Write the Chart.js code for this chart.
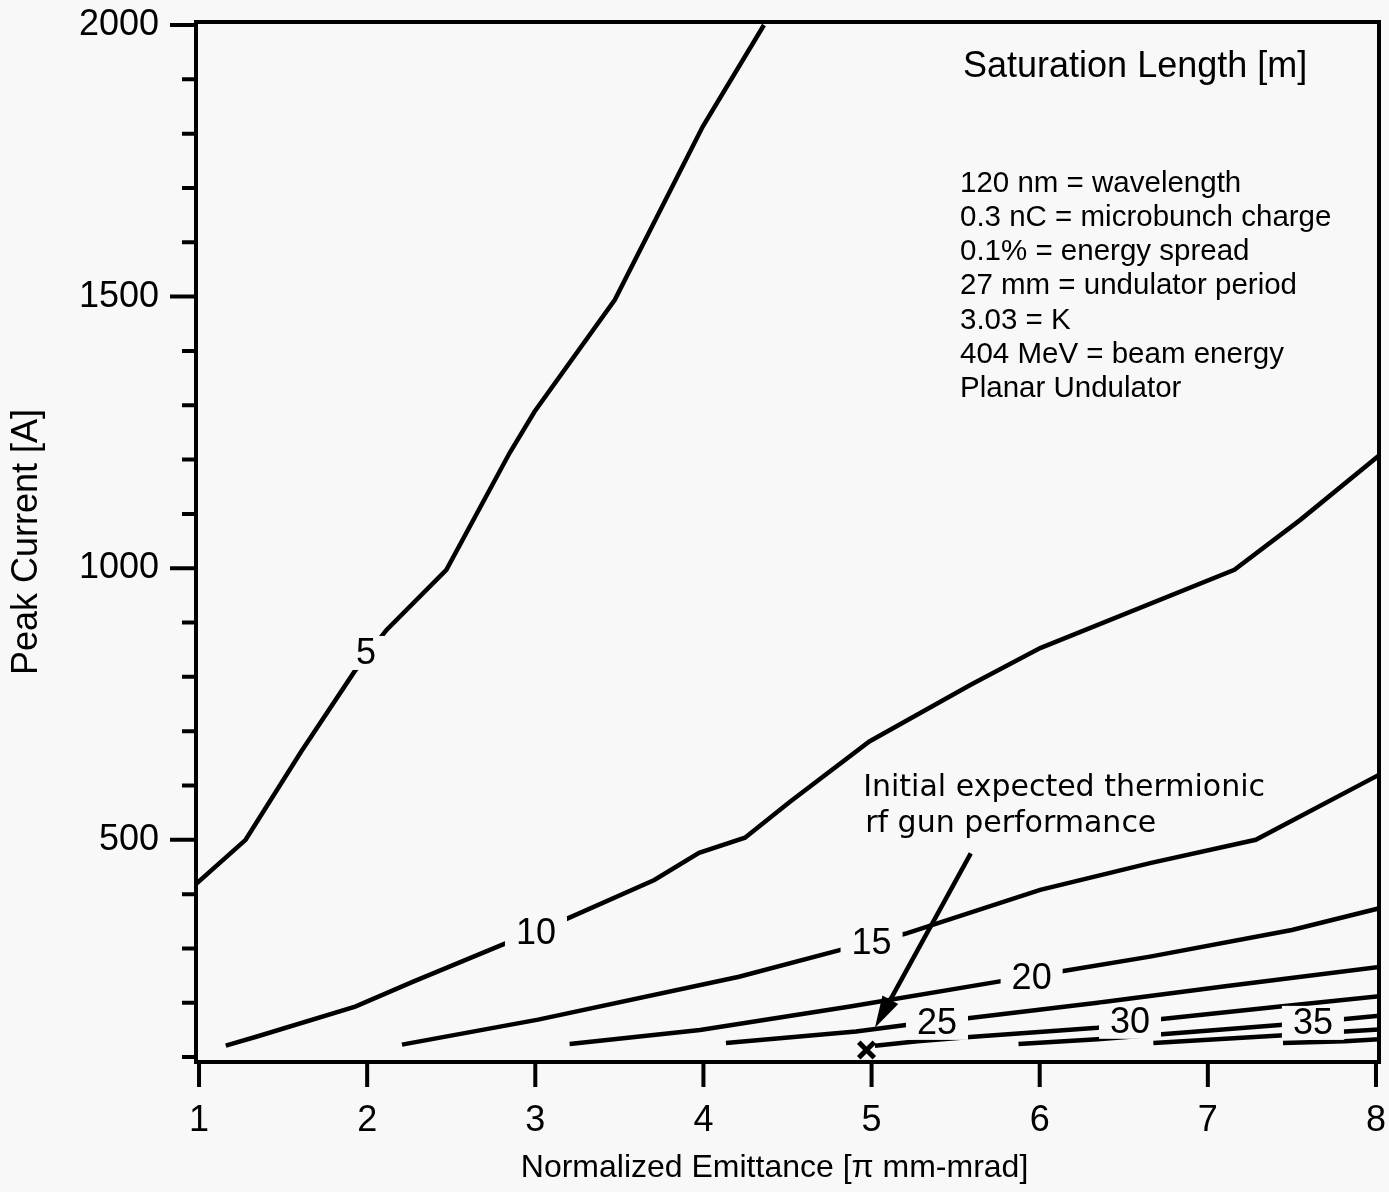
<!DOCTYPE html>
<html>
<head>
<meta charset="utf-8">
<script src="https://cdn.jsdelivr.net/npm/chart.js@4.4.1/dist/chart.umd.min.js"></script>
<style>
  html, body { margin: 0; padding: 0; background: #f8f8f8; }
</style>
</head>
<body>
<canvas id="satChart" width="1389" height="1192"></canvas>
<script>
const xTicks = [1, 2, 3, 4, 5, 6, 7, 8];
const yTickLabels = [500, 1000, 1500, 2000];

// contour lines of saturation length [m], emittance vs peak current
const len5X = [0.98, 1.277, 1.607, 1.925, 2.114, 2.471, 2.847, 2.995, 3.473, 3.996, 4.36];
const len5Y = [418, 500, 662, 810, 886, 997, 1212, 1288, 1494, 1813, 2000];
const len10X = [1.159, 1.345, 1.929, 2.274, 2.805, 3.19, 3.708, 3.974, 4.247, 4.515, 4.987, 5.587, 6.003, 7.158, 7.55, 8.02];
const len10Y = [121, 138, 193, 239, 307, 355, 426, 476, 504, 570, 681, 785, 853, 997, 1089, 1208];
const len15X = [2.207, 3.017, 4.212, 4.81, 5.199, 6.003, 6.656, 7.285, 8.02];
const len15Y = [123, 169, 248, 297, 327, 408, 457, 500, 620];
const len20X = [3.204, 3.98, 4.872, 5.754, 6.15, 6.656, 7.5, 8.02];
const len20Y = [124, 150, 193, 239, 259, 285, 334, 374];
const len25X = [4.134, 4.907, 5.205, 5.585, 6.344, 7.115, 8.02];
const len25Y = [126, 147, 159, 172, 200, 231, 266];
const len30X = [5.02, 5.273, 5.585, 6.344, 6.726, 7.429, 8.02];
const len30Y = [121, 129, 137, 154, 170, 193, 212];
const len35X = [5.874, 6.344, 6.726, 7.429, 7.816, 8.02];
const len35Y = [124, 133, 142, 159, 170, 176];
const len40X = [6.676, 7.429, 7.816, 8.02];
const len40Y = [126, 140, 147, 151];
const len45X = [7.447, 7.816, 8.02];
const len45Y = [126, 129, 133];

// contour labels
const labelText = ['5', '10', '15', '20', '25', '30', '35'];
const labelX = [1.993, 3.004, 5.0, 5.952, 5.389, 6.537, 7.625];
const labelY = [844, 328, 310, 245, 163, 165, 163];

// rf gun operating point and the arrow pointing at it
const markerX = [4.97];
const markerY = [113];
const arrowX = [5.59, 5.02];
const arrowY = [475, 154];

const noteLines = [
  '120 nm = wavelength',
  '0.3 nC = microbunch charge',
  '0.1% = energy spread',
  '27 mm = undulator period',
  '3.03 = K',
  '404 MeV = beam energy',
  'Planar Undulator'
];

const BG = '#f8f8f8';
const toPts = (xs, ys) => xs.map((x, i) => ({ x: x, y: ys[i] }));

const contours = [
  [len5X, len5Y], [len10X, len10Y], [len15X, len15Y], [len20X, len20Y], [len25X, len25Y],
  [len30X, len30Y], [len35X, len35Y], [len40X, len40Y], [len45X, len45Y]
];

const datasets = contours.map(([xs, ys]) => ({
  data: toPts(xs, ys),
  showLine: true,
  borderColor: '#000',
  borderWidth: 4.5,
  pointRadius: 0,
  tension: 0,
  fill: false
}));
datasets.push({
  data: toPts(markerX, markerY),
  showLine: false,
  pointStyle: 'crossRot',
  pointRadius: 11,
  borderWidth: 5,
  borderColor: '#000'
});

const decor = {
  id: 'decor',
  beforeDraw(chart) {
    const ctx = chart.ctx;
    ctx.save();
    ctx.fillStyle = BG;
    ctx.fillRect(0, 0, chart.width, chart.height);
    ctx.restore();
  },
  afterDatasetsDraw(chart) {
    const ctx = chart.ctx;
    const xs = chart.scales.x, ys = chart.scales.y;
    const a = chart.chartArea;
    ctx.save();

    // contour labels with cleared background
    ctx.font = '36px "Liberation Sans"';
    ctx.textAlign = 'center';
    ctx.textBaseline = 'middle';
    labelText.forEach((t, i) => {
      const px = xs.getPixelForValue(labelX[i]);
      const py = ys.getPixelForValue(labelY[i]);
      const w = ctx.measureText(t).width;
      ctx.fillStyle = BG;
      ctx.fillRect(px - w / 2 - 11, py - 17, w + 22, 34);
      ctx.fillStyle = '#000';
      ctx.fillText(t, px, py + 1);
    });

    // arrow
    const x0 = xs.getPixelForValue(arrowX[0]), y0 = ys.getPixelForValue(arrowY[0]);
    const x1 = xs.getPixelForValue(arrowX[1]), y1 = ys.getPixelForValue(arrowY[1]);
    const ang = Math.atan2(y1 - y0, x1 - x0);
    const hl = 32, hw = 9;
    ctx.strokeStyle = '#000';
    ctx.lineWidth = 4.5;
    ctx.beginPath();
    ctx.moveTo(x0, y0);
    ctx.lineTo(x1 - Math.cos(ang) * hl * 0.8, y1 - Math.sin(ang) * hl * 0.8);
    ctx.stroke();
    ctx.beginPath();
    ctx.moveTo(x1, y1);
    ctx.lineTo(x1 - Math.cos(ang) * hl - Math.sin(ang) * hw, y1 - Math.sin(ang) * hl + Math.cos(ang) * hw);
    ctx.lineTo(x1 - Math.cos(ang) * hl + Math.sin(ang) * hw, y1 - Math.sin(ang) * hl - Math.cos(ang) * hw);
    ctx.closePath();
    ctx.fillStyle = '#000';
    ctx.fill();

    // frame
    ctx.lineWidth = 4;
    ctx.strokeRect(a.left, a.top, a.right - a.left, a.bottom - a.top);

    // ticks
    ctx.lineWidth = 4;
    ctx.beginPath();
    xTicks.forEach(v => {
      const px = xs.getPixelForValue(v);
      ctx.moveTo(px, a.bottom);
      ctx.lineTo(px, a.bottom + 25);
    });
    for (let v = 100; v <= 2000; v += 100) {
      const py = ys.getPixelForValue(v);
      const len = v % 500 === 0 ? 26 : 14;
      ctx.moveTo(a.left, py);
      ctx.lineTo(a.left - len, py);
    }
    ctx.stroke();

    // notes
    ctx.fillStyle = '#000';
    ctx.textAlign = 'left';
    ctx.textBaseline = 'alphabetic';
    ctx.font = '36px "Liberation Sans"';
    ctx.fillText('Saturation Length [m]', xs.getPixelForValue(5.544), ys.getPixelForValue(1904));
    ctx.font = '29.5px "Liberation Sans"';
    const nx = xs.getPixelForValue(5.526);
    const ny = ys.getPixelForValue(1693);
    noteLines.forEach((t, i) => ctx.fillText(t, nx, ny + i * 34.2));

    ctx.font = '30px "DejaVu Sans"';
    const ix = xs.getPixelForValue(4.95);
    ctx.fillText('Initial expected thermionic', ix, ys.getPixelForValue(581));
    ctx.fillText('rf gun performance', ix + 2, ys.getPixelForValue(515));

    // x axis title
    ctx.textAlign = 'center';
    ctx.textBaseline = 'middle';
    ctx.font = '32px "Liberation Sans"';
    ctx.fillText('Normalized Emittance [\u03c0 mm-mrad]', xs.getPixelForValue(4.423), 1168);
    ctx.restore();
  }
};

const tickFont = { family: 'Liberation Sans', size: 36 };

new Chart(document.getElementById('satChart'), {
  type: 'scatter',
  data: { datasets: datasets },
  options: {
    responsive: false,
    animation: false,
    layout: { autoPadding: false, padding: { top: 22, right: 10, left: 0, bottom: 0 } },
    plugins: { legend: { display: false }, tooltip: { enabled: false } },
    scales: {
      x: {
        type: 'linear',
        min: 0.982,
        max: 8.018,
        afterBuildTicks: s => { s.ticks = xTicks.map(v => ({ value: v })); },
        afterFit: s => { s.height = 130; s.paddingLeft = 0; s.paddingRight = 0; },
        grid: { display: false, drawTicks: false },
        border: { display: false },
        ticks: { padding: 37, font: tickFont, color: '#000', maxRotation: 0, autoSkip: false, callback: v => String(v) }
      },
      y: {
        type: 'linear',
        min: 91,
        max: 2005.5,
        afterBuildTicks: s => { s.ticks = yTickLabels.map(v => ({ value: v })); },
        afterFit: s => { s.width = 196; s.paddingTop = 0; s.paddingBottom = 0; },
        grid: { display: false, drawTicks: false },
        border: { display: false },
        ticks: { padding: 37, font: tickFont, color: '#000', autoSkip: false, callback: v => String(v) },
        title: { display: true, text: 'Peak Current [A]', font: { family: 'Liberation Sans', size: 36 }, color: '#000', padding: { top: 5, bottom: 0 } }
      }
    }
  },
  plugins: [decor]
});
</script>
</body>
</html>
